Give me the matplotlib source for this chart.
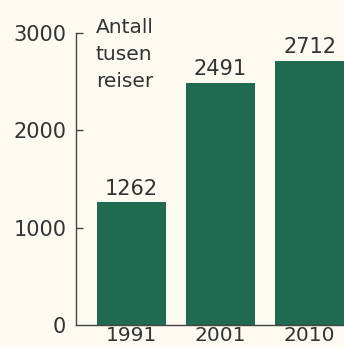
import matplotlib
matplotlib.use("Agg")
import matplotlib.pyplot as plt

years = ["1991", "2001", "2010"]
trips = [1262, 2491, 2712]
yticks = [0, 1000, 2000, 3000]
unit_label = "Antall\ntusen\nreiser"

bg = "#fcfaf1"
green = "#1f6a50"
txt = "#333333"
fs = 15

plt.rcParams["font.family"] = ["DejaVu Sans"]

fig = plt.figure(figsize=(3.44, 3.48), dpi=100, facecolor=bg)
ax = fig.add_axes([76 / 344, 23 / 348, 268 / 344, 292 / 348], facecolor=bg)

pos = list(range(len(years)))
ax.bar(pos, trips, width=0.77, color=green, zorder=2)

for x, v in zip(pos, trips):
    ax.annotate(str(v), (x, v), xytext=(0, 5.5), textcoords="offset points",
                ha="center", va="baseline", fontsize=fs, color=txt)

ax.set_xlim(-0.62, 2.385)
ax.set_ylim(0, 3000)
ax.set_yticks(yticks)
ax.set_yticklabels([str(t) for t in yticks])
ax.set_xticks(pos)
ax.set_xticklabels(years)

ax.spines["top"].set_visible(False)
ax.spines["right"].set_visible(False)
for s in ("left", "bottom"):
    ax.spines[s].set_color("#444444")
    ax.spines[s].set_linewidth(1.0)

ax.tick_params(axis="y", direction="in", length=5, width=1.0, color="#444444",
               pad=7, labelsize=fs, labelcolor=txt)
ax.tick_params(axis="x", length=0, pad=1, labelsize=14.5, labelcolor=txt)
ax.yaxis.get_major_ticks()[0].tick1line.set_visible(False)

fig.text(96 / 344, 1 - 18 / 348, unit_label, ha="left", va="top",
         fontsize=14.5, color=txt, linespacing=1.52)

fig.savefig("out.png", dpi=100, facecolor=bg)
